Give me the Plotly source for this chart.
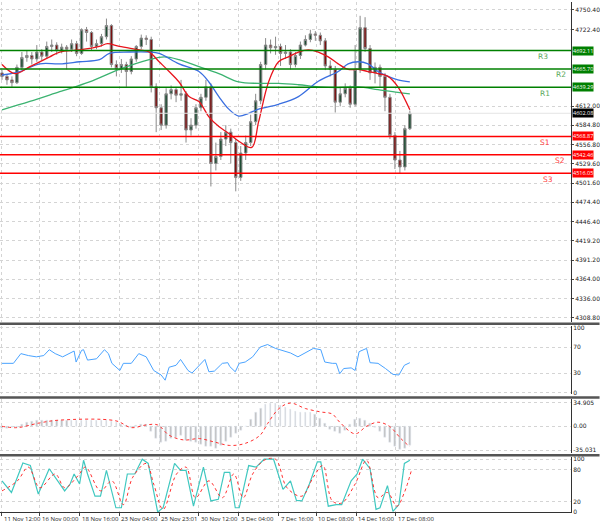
import plotly.graph_objects as go

# candles (one bar = 8h), open = previous close
first_open = 4660
closes = [4655, 4650, 4646, 4668, 4682, 4685, 4680, 4690, 4684, 4698,
          4700, 4692, 4697, 4694, 4702, 4688, 4722, 4718, 4698, 4702,
          4712, 4728, 4672, 4666, 4672, 4662, 4680, 4698, 4710, 4708,
          4640, 4610, 4585, 4630, 4636, 4628, 4630, 4578, 4585, 4610,
          4625, 4640, 4530, 4540, 4565, 4575, 4560, 4510, 4545, 4560,
          4590, 4620, 4672, 4700, 4696, 4698, 4688, 4690, 4672, 4685,
          4700, 4708, 4716, 4714, 4706, 4670, 4665, 4618, 4630, 4638,
          4615, 4665, 4725, 4695, 4660, 4668, 4655, 4625, 4570, 4535,
          4525, 4580, 4602.08]
highs = [4664, 4658, 4655, 4672, 4690, 4692, 4690, 4700, 4694, 4705,
         4708, 4704, 4702, 4700, 4708, 4706, 4724, 4726, 4720, 4708,
         4716, 4738, 4730, 4678, 4680, 4676, 4684, 4700, 4715, 4714,
         4712, 4645, 4615, 4638, 4642, 4640, 4650, 4634, 4595, 4615,
         4630, 4650, 4645, 4560, 4575, 4585, 4580, 4565, 4555, 4570,
         4600, 4630, 4676, 4710, 4708, 4712, 4702, 4700, 4694, 4690,
         4705, 4714, 4722, 4720, 4718, 4710, 4678, 4670, 4640, 4645,
         4642, 4700, 4742, 4740, 4700, 4675, 4672, 4660, 4630, 4575,
         4548, 4585, 4606]
lows = [4650, 4643, 4640, 4644, 4664, 4676, 4672, 4676, 4678, 4680,
        4690, 4686, 4688, 4665, 4690, 4684, 4686, 4705, 4692, 4694,
        4698, 4708, 4668, 4655, 4660, 4640, 4658, 4676, 4694, 4700,
        4632, 4575, 4578, 4580, 4622, 4618, 4620, 4560, 4570, 4580,
        4605, 4620, 4497, 4520, 4535, 4555, 4530, 4490, 4505, 4535,
        4555, 4585, 4615, 4665, 4688, 4686, 4670, 4680, 4665, 4668,
        4680, 4698, 4704, 4706, 4700, 4664, 4655, 4603, 4612, 4625,
        4610, 4612, 4660, 4690, 4650, 4645, 4640, 4605, 4565, 4522,
        4516, 4520, 4578]

# moving averages (bar index, price)
ma_red_x = [0, 2.6, 5.6, 9.6, 11.6, 15.6, 19.6, 21.2, 23.6, 27.6, 29.6, 31.6, 33.6, 35.6,
            37.6, 39.6, 41.6, 43.6, 45.6, 47.6, 50.2, 51.6, 53.6, 55.6, 57.6, 59.6, 61.6,
            63.6, 65.6, 67.6, 69.6, 71.6, 73.6, 75.6, 77.6, 79.6, 82]
ma_red = [4672, 4659, 4669, 4683, 4690, 4693, 4698, 4702, 4698, 4693, 4690, 4676, 4662,
          4647, 4626, 4619, 4597, 4583, 4573, 4562, 4553, 4590, 4647, 4676, 4683, 4690,
          4693, 4690, 4683, 4673, 4665, 4665, 4662, 4659, 4655, 4640, 4607]
ma_blue_x = [0, 3.6, 7.6, 11.6, 15.6, 19.6, 21.6, 25.6, 29.6, 31.6, 35.6, 39.6, 41.6, 43.6,
             45.6, 47.6, 49.6, 51.6, 55.6, 59.6, 63.6, 67.6, 69.6, 71.6, 73.6, 75.6, 77.6,
             79.6, 82]
ma_blue = [4657, 4662, 4673, 4673, 4676, 4679, 4688, 4690, 4690, 4688, 4673, 4662, 4647,
           4626, 4608, 4598, 4602, 4608, 4615, 4626, 4648, 4662, 4673, 4676, 4673, 4662,
           4655, 4650, 4647]
ma_green_x = [0, 5.6, 11.6, 17.6, 23.6, 29.6, 32.6, 35.6, 39.6, 43.6, 47.6, 51.6, 55.6,
              59.6, 63.6, 67.6, 71.6, 75.6, 79.6, 82]
ma_green = [4607, 4619, 4633, 4647, 4665, 4679, 4683, 4679, 4669, 4659, 4647, 4645, 4645,
            4643, 4640, 4639, 4640, 4636, 4632, 4630]

levels = [4692.11, 4665.70, 4639.29, 4568.87, 4542.46, 4516.05]
level_names = ["R3", "R2", "R1", "S1", "S2", "S3"]
price_ticks = [4750.40, 4722.40, 4612.00, 4584.80, 4556.80, 4529.60, 4501.60, 4474.40,
               4446.40, 4419.20, 4391.20, 4364.00, 4336.00, 4308.80]

rsi_x = [0, 2.3, 3.8, 5.3, 6.9, 8.4, 9.5, 10.7, 12.2, 13.7, 14.5, 14.9, 16, 16.4, 17.2, 19,
         20.6, 21.4, 22.1, 23.7, 24.4, 26, 27.5, 29, 30.5, 32, 32.8, 33.6, 35, 35.9, 37.4,
         38.2, 39.7, 40.8, 41.6, 42.7, 43.9, 44.3, 45.4, 45.8, 46.9, 47.7, 48.9, 50.4, 51.9,
         53.4, 55, 56.5, 58, 59.5, 61, 62.6, 64.1, 64.9, 66.4, 67.2, 67.9, 68.7, 70.2, 71,
         71.8, 73.3, 74, 75.6, 77.1, 78.6, 79.8, 80.9, 82]
rsi = [45, 45, 60, 57, 55, 57, 66, 60, 55, 61, 64, 47, 65, 66, 50, 52, 66, 60, 45, 34, 45,
       45, 60, 55, 34, 27, 19, 39, 42, 51, 34, 30, 42, 51, 32, 33, 42, 45, 46, 40, 32, 45,
       47, 55, 70, 74, 68, 65, 61, 55, 61, 68, 66, 47, 45, 45, 29, 37, 38, 34, 63, 68, 46,
       45, 37, 28, 27, 42, 46]

macd_hist = [-3, -3, -2, -1, 2, 5, 7, 8,
             8, 9, 9, 9, 9, 9, 9, 8, 8, 8, 8, 8, 9, 8, 7,
             5, 3, 1, -1, 1, 3, 2,
             -8, -18, -24, -22, -18, -16, -14, -20,
             -22, -24, -26, -30, -30, -32,
             -28, -22, -16, -10, -6,
             0, 10, 20, 26,
             32, 34, 33, 31, 28, 24, 22,
             20, 20, 21, 18, 12, 4, -4,
             -8, -10, -6, 2,
             10, 12, 8, 4,
             -2, -8, -16, -24, -30, -34, -32, -28]
macd_sig_x = [0, 3, 7.6, 11.5, 22.9, 26, 29, 31.3, 33.6, 36.6, 39.7, 42.7, 45.8, 48.9, 51.9,
              53.4, 55.7, 58, 61, 64.1, 66.4, 67.9, 71, 73.3, 75.6, 77.9, 80.2, 82]
macd_sig = [0, -2, 5, 9, 8, -2, 2, 2, -13, -20, -18, -23, -28, -25, -13, 4, 26, 34, 26, 21,
            18, 6, -11, 0, 6, 0, -18, -30]

sto_x = [0, 1.9, 4.2, 5.7, 7.3, 9.5, 12.6, 13.7, 14.5, 15.6, 16.4, 17.2, 18.7, 19.8, 21, 22.9,
         24, 25.2, 26.7, 28.2, 29.4, 31.3, 32.4, 34.7, 35.9, 37, 38.5, 40.5, 42, 43.5, 44.7,
         45.8, 46.9, 47.7, 49.6, 51.1, 52.7, 54.6, 56.5, 58, 59.2, 60.3, 61.8, 63.4, 64.1,
         65.6, 67.2, 68.3, 70.2, 71.4, 72.5, 74, 75.2, 76, 77.5, 78.6, 79.8, 80.9, 82]
sto_main = [59, 37, 93, 88, 34, 82, 40, 53, 72, 53, 98, 72, 30, 30, 79, 8, 8, 72, 72, 100, 92,
            0, 8, 92, 79, 79, 11, 85, 21, 24, 75, 75, 8, 8, 88, 85, 100, 100, 43, 59, 22, 21,
            53, 95, 95, 11, 14, 14, 59, 72, 100, 82, 5, 8, 50, 1, 14, 92, 98]
sto_sig_x = [0, 3.1, 5.3, 7.6, 10.7, 12.6, 15.3, 16.8, 19.8, 22.1, 24.4, 26.3, 29, 30.5, 32.4,
             35.1, 37, 38.9, 41.6, 44.3, 46.6, 48.5, 50.4, 52.7, 55, 57.3, 60.3, 62.6, 64.5,
             66.4, 68.3, 71, 73.3, 75.6, 77.5, 79.4, 80.9, 82.4]
sto_sig = [40, 59, 85, 46, 72, 46, 69, 85, 40, 59, 14, 66, 92, 53, 5, 72, 85, 27, 59, 27, 72,
           27, 72, 98, 100, 46, 30, 66, 88, 21, 17, 53, 98, 27, 37, 11, 37, 82]

date_x = [0, 7.6, 15.6, 23.6, 31.6, 39.6, 47.6, 55.6, 63.2, 71.2, 79.2]
date_labels = ["11 Nov 12:00", "16 Nov 00:00", "18 Nov 16:00", "23 Nov 04:00", "25 Nov 23:01",
               "30 Nov 12:00", "3 Dec 04:00", "7 Dec 16:00", "10 Dec 08:00", "14 Dec 16:00",
               "17 Dec 08:00"]

H = 512
def py(p):  # pixel row -> paper
    return (H - p) / H

bars = list(range(len(closes)))
opens = [first_open] + closes[:-1]

fig = go.Figure()
fig.add_trace(go.Candlestick(
    x=bars, open=opens, high=highs, low=lows, close=closes,
    increasing=dict(line=dict(color="#8a8a8a", width=1), fillcolor="#1e4d33"),
    decreasing=dict(line=dict(color="#8a8a8a", width=1), fillcolor="#7a1010"),
    whiskerwidth=0, xaxis="x", yaxis="y"))
fig.add_trace(go.Scatter(x=ma_green_x, y=ma_green, mode="lines", line=dict(color="#3cb371", width=1.3, shape="spline"), xaxis="x", yaxis="y"))
fig.add_trace(go.Scatter(x=ma_blue_x, y=ma_blue, mode="lines", line=dict(color="#3a6fe0", width=1.3, shape="spline"), xaxis="x", yaxis="y"))
fig.add_trace(go.Scatter(x=ma_red_x, y=ma_red, mode="lines", line=dict(color="#e8141c", width=1.3, shape="spline"), xaxis="x", yaxis="y"))

fig.add_trace(go.Scatter(x=rsi_x, y=rsi, mode="lines", line=dict(color="#4aa3ff", width=1), xaxis="x", yaxis="y2"))
fig.add_trace(go.Bar(x=bars, y=macd_hist, marker_color="#c0c0c0", width=0.35, xaxis="x", yaxis="y3"))
fig.add_trace(go.Scatter(x=macd_sig_x, y=macd_sig, mode="lines", line=dict(color="#ff3030", width=1, dash="dot", shape="spline"), xaxis="x", yaxis="y3"))
fig.add_trace(go.Scatter(x=sto_x, y=sto_main, mode="lines", line=dict(color="#40c8c0", width=1.2), xaxis="x", yaxis="y4"))
fig.add_trace(go.Scatter(x=sto_sig_x, y=sto_sig, mode="lines", line=dict(color="#ff3030", width=1, dash="dot", shape="spline"), xaxis="x", yaxis="y4"))

xr = [-0.4, 114.4]
grid = dict(showgrid=True, gridcolor="#d4d4d4", griddash="dot", gridwidth=1, zeroline=False)
tickf = dict(family="DejaVu Sans", size=6, color="#222")

shapes, annots = [], []
for lv, nm in zip(levels, level_names):
    col = "#008000" if nm[0] == "R" else "#ff0000"
    shapes.append(dict(type="line", xref="paper", x0=0, x1=1, yref="y", y0=lv, y1=lv,
                       line=dict(color=col, width=1.5)))
    annots.append(dict(xref="paper", x=1.002, yref="y", y=lv, text=f"{lv:.2f}", showarrow=False,
                       xanchor="left", font=dict(size=5.5, color="white"), bgcolor=col, borderpad=0))
label_x = {"R3": 553, "R2": 571, "R1": 555, "S1": 555, "S2": 570, "S3": 558}
for lv, nm in zip(levels, level_names):
    col = "#5aa85a" if nm[0] == "R" else "#ff4040"
    annots.append(dict(xref="paper", x=label_x[nm] / 574, yref="y", y=lv, yshift=-6, text=nm,
                       showarrow=False, font=dict(family="DejaVu Sans", size=7.5, color=col)))
shapes.append(dict(type="line", xref="paper", x0=0, x1=1, yref="y", y0=closes[-1], y1=closes[-1],
                   line=dict(color="#e4e4e4", width=1)))
annots.append(dict(xref="paper", x=1.002, yref="y", y=closes[-1], text=f"{closes[-1]:.2f}", showarrow=False,
                   xanchor="left", font=dict(size=5.5, color="white"), bgcolor="black", borderpad=0))
for p in [323, 397, 455]:
    shapes.append(dict(type="line", xref="paper", x0=0, x1=1.05, yref="paper", y0=py(p), y1=py(p),
                       line=dict(color="#555", width=2.5)))
for dx, dl in zip(date_x, date_labels):
    annots.append(dict(xref="x", x=dx, yref="paper", y=0, yshift=-1, text=dl, showarrow=False,
                       xanchor="left", yanchor="top", font=dict(size=6, color="#222")))

fig.update_layout(
    width=600, height=525, margin=dict(l=0, r=26, t=0, b=13),
    plot_bgcolor="white", paper_bgcolor="white", showlegend=False, bargap=0,
    xaxis=dict(range=xr, domain=[0, 1], tickvals=date_x, ticks="outside", ticklen=3,
               showticklabels=False, showline=True, linecolor="#333", rangeslider=dict(visible=False),
               anchor="y4", **grid),
    yaxis=dict(domain=[py(321), 1], range=[4302.8, 4761.8], side="right", tickvals=price_ticks,
               ticktext=[f"{v:.2f}" for v in price_ticks], tickfont=tickf, ticks="outside", ticklen=2,
               showline=True, linecolor="#333", anchor="x", **grid),
    yaxis2=dict(domain=[py(394), py(325)], range=[-3, 103], side="right", tickvals=[0, 30, 70, 100],
                tickfont=tickf, showline=True, linecolor="#333", anchor="x", **grid),
    yaxis3=dict(domain=[py(453), py(399)], range=[-39.4, 39.3], side="right",
                tickvals=[34.905, 0, -35.031], ticktext=["34.905", "0.00", "-35.031"],
                tickfont=tickf, showline=True, linecolor="#333", anchor="x", **grid),
    yaxis4=dict(domain=[0, py(457)], range=[0, 103.8], side="right", tickvals=[0, 20, 80, 100],
                tickfont=tickf, showline=True, linecolor="#333", anchor="x", **grid),
    shapes=shapes, annotations=annots,
)
fig.write_html("out.html", config={"displayModeBar": False},
               post_script="document.body.style.margin='0';document.body.style.overflow='hidden';")
